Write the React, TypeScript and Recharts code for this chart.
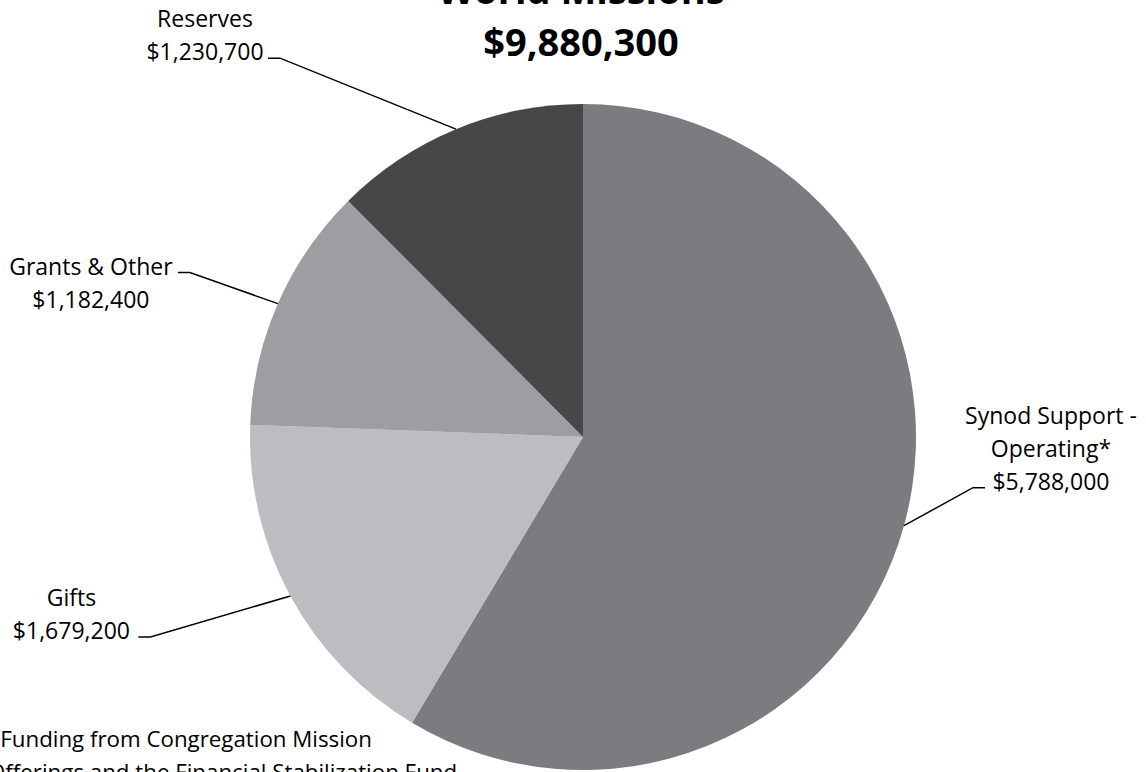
import { PieChart, Pie, Cell } from "recharts";

const categories = ["Synod Support -\nOperating*", "Gifts", "Grants & Other", "Reserves"];
const amounts = [5788000, 1679200, 1182400, 1230700];
const sliceColors = ["#7b7c80", "#bcbdc1", "#9d9ea1", "#47474a"];
const totalLabel = "$9,880,300";

// leader line elbow relative to the slice edge, text centre relative to the tick end,
// and which text line the tick points at
const leaders = [
  { dx: 69, dy: -38, textDx: 66, attach: 2 },
  { dx: -140, dy: 41, textDx: -67, attach: 1 },
  { dx: -88, dy: -31, textDx: -87, attach: 0 },
  { dx: -176, dy: -71, textDx: -63, attach: 1 },
];

const data = categories.map((name, i) => ({ name, value: amounts[i] }));
const FONT = "'Open Sans', sans-serif";
const RAD = Math.PI / 180;
const LINE = 33;

const money = (v: number) => "$" + v.toLocaleString("en-US");

function renderLabel(props: any) {
  const { cx, cy, midAngle, outerRadius, index } = props;
  const ex = cx + outerRadius * Math.cos(-midAngle * RAD);
  const ey = cy + outerRadius * Math.sin(-midAngle * RAD);
  const l = leaders[index];
  const bx = ex + l.dx;
  const by = ey + l.dy;
  const side = l.dx > 0 ? 1 : -1;
  const tx = bx + side * 12;
  const lines = [...categories[index].split("\n"), money(amounts[index])];
  const centerX = tx + l.textDx;
  const firstBaseline = by + 2 - l.attach * LINE;
  return (
    <g key={"lbl" + index}>
      <polyline
        points={`${ex},${ey} ${bx},${by} ${tx},${by}`}
        fill="none"
        stroke="#000"
        strokeWidth={1.5}
      />
      <text textAnchor="middle" fontFamily={FONT} fontSize={23} fill="#000">
        {lines.map((t, i) => (
          <tspan key={i} x={centerX} y={firstBaseline + i * LINE}>
            {t}
          </tspan>
        ))}
      </text>
    </g>
  );
}

export default function App() {
  return (
    <div style={{ position: "relative", width: 1146, height: 772, background: "#fff", overflow: "hidden" }}>
      <style>{`body{margin:0}`}</style>
      <PieChart width={1146} height={772} margin={{ top: 0, right: 0, bottom: 0, left: 0 }}>
        <Pie
          data={data}
          dataKey="value"
          nameKey="name"
          cx={583}
          cy={437}
          outerRadius={333}
          startAngle={90}
          endAngle={-270}
          stroke="none"
          label={renderLabel}
          labelLine={false}
          isAnimationActive={false}
        >
          {data.map((d, i) => (
            <Cell key={d.name} fill={sliceColors[i]} />
          ))}
        </Pie>
      </PieChart>
      <svg
        width={1146}
        height={772}
        style={{ position: "absolute", left: 0, top: 0, pointerEvents: "none" }}
      >
        <text x={581} y={4} textAnchor="middle" fontFamily={FONT} fontWeight={700} fontSize={38} fill="#000">
          World Missions
        </text>
        <text x={581} y={56} textAnchor="middle" fontFamily={FONT} fontWeight={700} fontSize={38} fill="#000">
          {totalLabel}
        </text>
        <text fontFamily={FONT} fontSize={22.3} fill="#000">
          <tspan x={-12} y={747}>*Funding from Congregation Mission</tspan>
          <tspan x={-12} y={780}>Offerings and the Financial Stabilization Fund</tspan>
        </text>
      </svg>
    </div>
  );
}
